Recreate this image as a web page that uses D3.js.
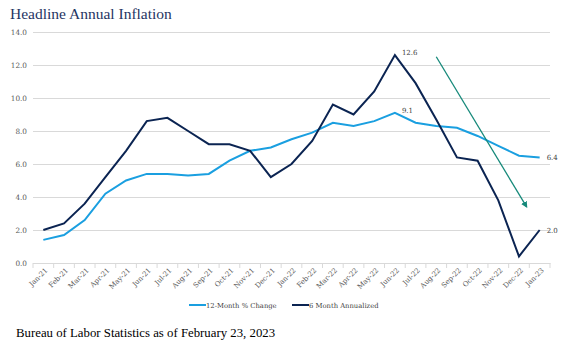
<!DOCTYPE html>
<html><head><meta charset="utf-8">
<script src="https://cdn.jsdelivr.net/npm/d3@7"></script>
<style>
html,body{margin:0;padding:0;background:#fff;}
svg{display:block;font-family:"DejaVu Serif","Liberation Serif",serif;}
</style></head>
<body><svg id="c" width="573" height="346"></svg>
<script>
const categories = ["Jan-21","Feb-21","Mar-21","Apr-21","May-21","Jun-21","Jul-21","Aug-21","Sep-21","Oct-21","Nov-21","Dec-21","Jan-22","Feb-22","Mar-22","Apr-22","May-22","Jun-22","Jul-22","Aug-22","Sep-22","Oct-22","Nov-22","Dec-22","Jan-23"];
const twelveMonth = [1.4,1.7,2.6,4.2,5.0,5.4,5.4,5.3,5.4,6.2,6.8,7.0,7.5,7.9,8.5,8.3,8.6,9.1,8.5,8.3,8.2,7.7,7.1,6.5,6.4];
const sixMonthAnn = [2.0,2.4,3.6,5.2,6.8,8.6,8.8,8.0,7.2,7.2,6.8,5.2,6.0,7.4,9.6,9.0,10.4,12.6,10.9,8.7,6.4,6.2,3.8,0.4,2.0];
const yTicks = [0,2,4,6,8,10,12,14];
const seriesNames = ["12-Month % Change","6 Month Annualized"];
const title = "Headline Annual Inflation";
const source = "Bureau of Labor Statistics as of February 23, 2023";
const labels = [
  {series:1, idx:17, text:"12.6"},
  {series:0, idx:17, text:"9.1"},
  {series:0, idx:24, text:"6.4"},
  {series:1, idx:24, text:"2.0"}
];
// arrow annotation in data space: [category index (fractional), value]
const arrowFrom = [19, 12.5];
const arrowTo = [23.37, 3.4];

(function(){
const colors = ["#1a9fe0","#0b2452"];
const svg = d3.select("#c");
const pl = 33, pr = 550, pt = 32, pb = 263;

const x = d3.scaleBand().domain(categories).range([pl,pr]).padding(0);
const cx = i => x(categories[0]) + x.step()*(i+0.5);
const y = d3.scaleLinear().domain([0,14]).range([pb,pt]);

// title
svg.append("text").attr("x",10).attr("y",18.5).attr("fill","#1f3563")
  .style("font-family","'Liberation Serif',serif").style("font-size","15.5px").text(title);

// gridlines
const gy = svg.append("g").attr("transform",`translate(${pl},0)`)
  .call(d3.axisLeft(y).tickValues(yTicks).tickSize(-(pr-pl)).tickFormat(d3.format(".1f")).tickPadding(6));
gy.select(".domain").remove();
gy.selectAll(".tick line").attr("stroke","#d9d9d9").attr("stroke-width",1);
gy.selectAll(".tick text").attr("fill","#595959").style("font-size","7.3px").style("font-family","'DejaVu Serif',serif");

// x axis
const gx = svg.append("g").attr("transform",`translate(0,${pb})`)
  .call(d3.axisBottom(x).tickSize(0).tickPadding(4));
gx.select(".domain").attr("stroke","#d9d9d9");
gx.selectAll(".tick text").attr("fill","#595959").style("font-size","7px")
  .style("font-family","'DejaVu Serif',serif")
  .attr("text-anchor","end").attr("x",0).attr("y",0).attr("dx",0).attr("dy","0.35em")
  .attr("transform","translate(3,6) rotate(-45)");
// boundary ticks
svg.append("g").selectAll("line").data(d3.range(categories.length+1)).join("line")
  .attr("x1",i=>pl+x.step()*i).attr("x2",i=>pl+x.step()*i)
  .attr("y1",pb).attr("y2",pb+5).attr("stroke","#d9d9d9");

const line = d3.line().x((d,i)=>cx(i)).y(d=>y(d));
[twelveMonth, sixMonthAnn].forEach((s,k)=>{
  svg.append("path").datum(s).attr("d",line).attr("fill","none")
    .attr("stroke",colors[k]).attr("stroke-width",2).attr("stroke-linejoin","miter");
});

// data labels
const dataArr = [twelveMonth, sixMonthAnn];
svg.append("g").selectAll("text").data(labels).join("text")
  .attr("x",d=>cx(d.idx)+7).attr("y",d=>y(dataArr[d.series][d.idx])+(d.idx===17?0:3))
  .attr("fill","#404040").style("font-size","7px").text(d=>d.text);

// arrow
const defs = svg.append("defs");
defs.append("marker").attr("id","ah").attr("viewBox","0 0 10 10").attr("refX",8).attr("refY",5)
  .attr("markerWidth",5).attr("markerHeight",5).attr("orient","auto")
  .append("path").attr("d","M0,0L10,5L0,10z").attr("fill","#16897a");
const ax = v => x(categories[0]) + x.step()*(v+0.5);
svg.append("line").attr("x1",ax(arrowFrom[0])).attr("y1",y(arrowFrom[1]))
  .attr("x2",ax(arrowTo[0])).attr("y2",y(arrowTo[1]))
  .attr("stroke","#16897a").attr("stroke-width",1.3).attr("marker-end","url(#ah)");

// legend
const lg = svg.append("g").attr("transform","translate(189,305)");
const legX = [0,103];
seriesNames.forEach((n,k)=>{
  const g = lg.append("g").attr("transform",`translate(${legX[k]},0)`);
  g.append("line").attr("x1",0).attr("x2",17).attr("y1",0).attr("y2",0).attr("stroke",colors[k]).attr("stroke-width",2);
  g.append("text").attr("x",17).attr("y",2.5).attr("fill","#404040").style("font-size","6.8px").text(n);
});

// source
svg.append("text").attr("x",16).attr("y",337).attr("fill","#000")
  .style("font-family","'Liberation Serif',serif").style("font-size","12.8px").text(source);
})();
</script></body></html>
